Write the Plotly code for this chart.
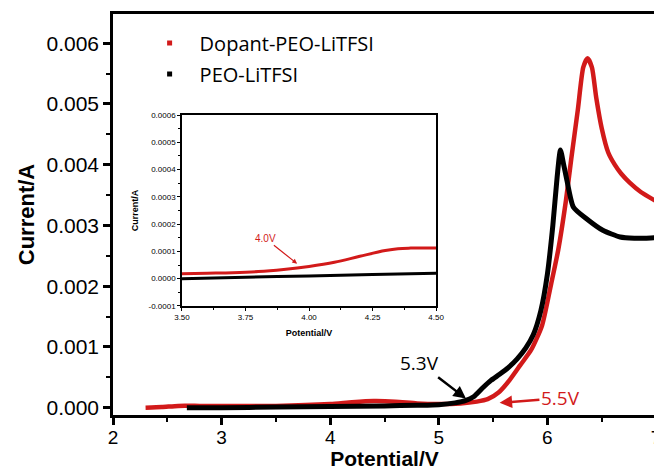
import plotly.graph_objects as go

# ---------------- data ----------------
dopant_x = [2.30, 2.45, 2.60, 2.80, 3.00, 3.50, 4.00, 4.20, 4.40, 4.60, 4.80, 5.00, 5.20,
            5.35, 5.45, 5.55, 5.65, 5.75, 5.85, 5.95, 6.03, 6.10, 6.17, 6.22, 6.28, 6.33,
            6.37, 6.41, 6.45, 6.50, 6.56, 6.62, 6.68, 6.76, 6.86, 7.00]
dopant_y = [0.0, 0.00001, 0.00003, 0.00003, 0.00003, 0.00003, 0.00006, 0.00009, 0.00011,
            0.00010, 0.00007, 0.00006, 0.00007, 0.00010, 0.00014, 0.00025, 0.00045, 0.00070,
            0.00095, 0.00135, 0.00200, 0.00260, 0.00340, 0.00410, 0.00490, 0.00560,
            0.00575, 0.00560, 0.00510, 0.00460, 0.00420, 0.00400, 0.00385, 0.00370,
            0.00355, 0.00340]

peo_x = [2.68, 3.00, 3.50, 4.00, 4.50, 4.80, 5.00, 5.15, 5.25, 5.32, 5.40, 5.48, 5.56,
         5.64, 5.72, 5.80, 5.87, 5.94, 6.00, 6.05, 6.09, 6.12, 6.15, 6.18, 6.24, 6.36,
         6.51, 6.67, 6.80, 6.90, 7.00]
peo_y = [0.0, 0.0, 0.00001, 0.00002, 0.00003, 0.00004, 0.00005, 0.00008, 0.00012, 0.00018,
         0.00032, 0.00045, 0.00055, 0.00066, 0.00080, 0.00098, 0.00120, 0.00160, 0.00220,
         0.00300, 0.00380, 0.00424, 0.00400, 0.00374, 0.00330, 0.00311, 0.00292, 0.00281,
         0.00279, 0.00279, 0.00280]

inset_dopant_x = [3.50, 3.60, 3.70, 3.80, 3.90, 4.00, 4.10, 4.20, 4.30, 4.35, 4.40, 4.50]
inset_dopant_y = [0.000018, 0.000020, 0.000022, 0.000026, 0.000034, 0.000045, 0.000060,
                  0.000082, 0.000103, 0.000110, 0.000112, 0.000112]
inset_peo_x = [3.50, 3.75, 4.00, 4.25, 4.50]
inset_peo_y = [0.0, 0.000005, 0.000010, 0.000015, 0.000020]

series_names = ["Dopant-PEO-LiTFSI", "PEO-LiTFSI"]
main_xticks = [2, 3, 4, 5, 6, 7]
main_yticks = [0.000, 0.001, 0.002, 0.003, 0.004, 0.005, 0.006]
main_ytick_labels = ["0.000", "0.001", "0.002", "0.003", "0.004", "0.005", "0.006"]
inset_yticks = [-0.0001, 0.0, 0.0001, 0.0002, 0.0003, 0.0004, 0.0005, 0.0006]
inset_ytick_labels = ["-0.0001", "0.0000", "0.0001", "0.0002", "0.0003", "0.0004",
                      "0.0005", "0.0006"]
inset_xticks = [3.50, 3.75, 4.00, 4.25, 4.50]
inset_xtick_labels = ["3.50", "3.75", "4.00", "4.25", "4.50"]

RED = "#d21a1a"
BLACK = "#000000"

fig = go.Figure()

# main curves
fig.add_trace(go.Scatter(x=dopant_x, y=dopant_y, mode="lines",
                         line=dict(color=RED, width=4.5, shape="spline", smoothing=0.6),
                         showlegend=False, xaxis="x", yaxis="y"))
fig.add_trace(go.Scatter(x=peo_x, y=peo_y, mode="lines",
                         line=dict(color=BLACK, width=5, shape="spline", smoothing=0.6),
                         showlegend=False, xaxis="x", yaxis="y"))
# legend entries
fig.add_trace(go.Scatter(x=[None], y=[None], mode="markers", name=series_names[0],
                         marker=dict(symbol="square", size=5, color=RED), legendgroup="a"))
fig.add_trace(go.Scatter(x=[None], y=[None], mode="markers", name=series_names[1],
                         marker=dict(symbol="square", size=5, color=BLACK), legendgroup="b"))

# inset curves
fig.add_trace(go.Scatter(x=inset_dopant_x, y=inset_dopant_y, mode="lines",
                         line=dict(color=RED, width=3, shape="spline"), showlegend=False,
                         xaxis="x2", yaxis="y2"))
fig.add_trace(go.Scatter(x=inset_peo_x, y=inset_peo_y, mode="lines",
                         line=dict(color=BLACK, width=3, shape="spline"), showlegend=False,
                         xaxis="x2", yaxis="y2"))

tick_font = dict(family="Liberation Sans, Arial", size=21, color="black")
xtick_font = dict(family="Liberation Sans, Arial", size=19, color="black")
title_font = dict(family="Liberation Sans, Arial", size=22, color="black")
xtitle_font = dict(family="Liberation Sans, Arial", size=21, color="black")
small_font = dict(family="Liberation Sans, Arial", size=8, color="black")
small_title = dict(family="Liberation Sans, Arial", size=9, color="black")

# The page body has an 8px default margin, so the figure is sized to fit the window.
fig.update_layout(
    width=654, height=462,
    margin=dict(l=105, r=6, t=6, b=55),
    paper_bgcolor="white", plot_bgcolor="white",
    showlegend=True,
    legend=dict(x=0.049, y=0.976, xanchor="left", yanchor="top", bgcolor="rgba(0,0,0,0)",
                font=dict(family="Open Sans, Noto Sans", size=20, color="black"),
                tracegroupgap=2, itemwidth=50),
    xaxis=dict(domain=[0, 1], range=[2, 7], tickmode="array", tickvals=main_xticks,
               showline=True, linecolor="black", linewidth=2.5, mirror=True,
               ticks="outside", ticklen=7, tickwidth=2.5, tickcolor="black",
               minor=dict(dtick=0.5, ticks="outside", ticklen=4, tickwidth=2, tickcolor="black"),
               showgrid=False, zeroline=False, tickfont=xtick_font, automargin=False,
               ticklabelstandoff=-4,
               title=dict(text="<b>Potential/V</b>", font=xtitle_font, standoff=5)),
    yaxis=dict(domain=[0, 1], range=[-0.00012, 0.00648], tickmode="array",
               tickvals=main_yticks, ticktext=main_ytick_labels,
               showline=True, linecolor="black", linewidth=2.5, mirror=True,
               ticks="outside", ticklen=7, tickwidth=2.5, tickcolor="black",
               minor=dict(dtick=0.0005, tick0=0, ticks="outside", ticklen=4, tickwidth=2, tickcolor="black"),
               showgrid=False, zeroline=False, tickfont=tick_font, automargin=False,
               title=dict(text="<b>Current/A</b>", font=title_font, standoff=6)),
    xaxis2=dict(domain=[0.127, 0.595], anchor="y2", range=[3.5, 4.5], tickmode="array",
                tickvals=inset_xticks, ticktext=inset_xtick_labels,
                showline=True, linecolor="black", linewidth=1.5, mirror=True,
                ticks="outside", ticklen=3, tickwidth=1, tickcolor="black",
                minor=dict(dtick=0.125, tick0=3.5, ticks="outside", ticklen=2, tickwidth=1, tickcolor="black"),
                showgrid=False, zeroline=False, tickfont=small_font, automargin=False,
                title=dict(text="<b>Potential/V</b>", font=small_title, standoff=8)),
    yaxis2=dict(domain=[0.272, 0.748], anchor="x2", range=[-0.0001, 0.0006], tickmode="array",
                tickvals=inset_yticks, ticktext=inset_ytick_labels,
                showline=True, linecolor="black", linewidth=1.5, mirror=True,
                ticks="outside", ticklen=3, tickwidth=1, tickcolor="black",
                minor=dict(dtick=0.00005, tick0=0, ticks="outside", ticklen=2, tickwidth=1, tickcolor="black"),
                showgrid=False, zeroline=False, tickfont=small_font, automargin=False,
                title=dict(text="<b>Current/A</b>", font=small_title, standoff=8)),
)

ann_font = dict(family="Open Sans, Noto Sans", size=19)
fig.add_annotation(x=5.25, y=0.00015, ax=4.82, ay=0.00074, xref="x", yref="y", axref="x", ayref="y",
                   text="5.3V", font=dict(ann_font, color=BLACK), showarrow=True,
                   arrowhead=2, arrowsize=1, arrowwidth=2.5, arrowcolor=BLACK)
fig.add_annotation(x=5.56, y=0.00008, ax=6.12, ay=0.00016, xref="x", yref="y", axref="x", ayref="y",
                   text="5.5V", font=dict(ann_font, color=RED), showarrow=True,
                   arrowhead=2, arrowsize=1, arrowwidth=2.5, arrowcolor=RED)
fig.add_annotation(x=3.953, y=0.000055, ax=3.827, ay=0.000148, xref="x2", yref="y2", axref="x2", ayref="y2",
                   text="4.0V", font=dict(family="Liberation Sans, Arial", size=10, color=RED), showarrow=True,
                   arrowhead=2, arrowsize=0.8, arrowwidth=1.2, arrowcolor=RED)

fig.write_html("out.html")
